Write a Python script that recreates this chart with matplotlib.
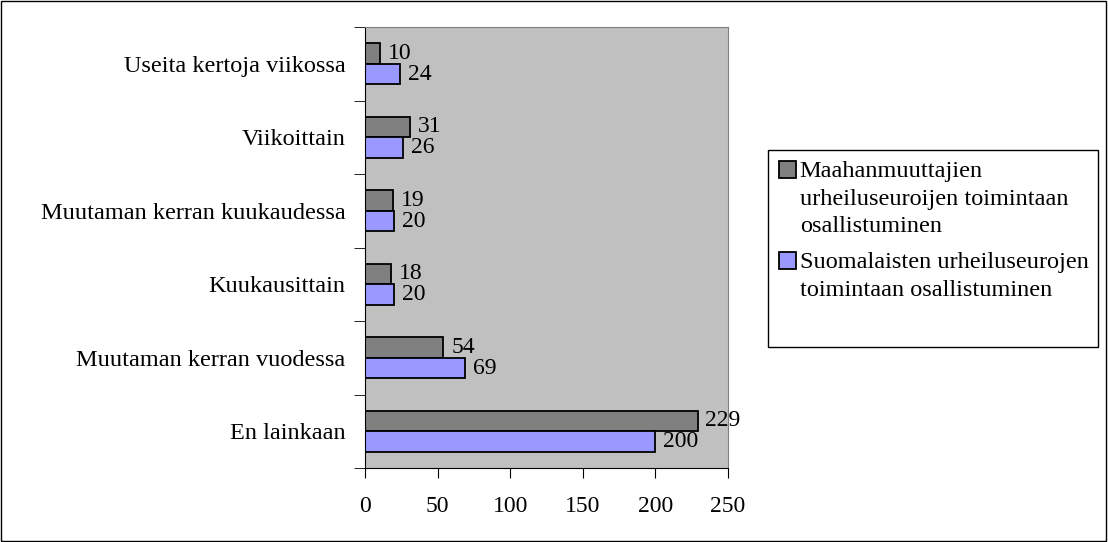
import matplotlib.pyplot as plt
import numpy as np
from matplotlib.patches import Rectangle

plt.rcParams['font.family'] = ['Liberation Serif', 'DejaVu Serif']

categories = ["En lainkaan", "Muutaman kerran vuodessa", "Kuukausittain",
              "Muutaman kerran kuukaudessa", "Viikoittain", "Useita kertoja viikossa"]
maahanmuuttajat = [229, 54, 18, 19, 31, 10]
suomalaiset = [200, 69, 20, 20, 26, 24]
series_labels = ["Maahanmuuttajien\nurheiluseuroijen toimintaan\nosallistuminen",
                 "Suomalaisten urheiluseurojen\ntoimintaan osallistuminen"]

W, H = 1108, 542
fig = plt.figure(figsize=(W / 100, H / 100), dpi=100)
ax = fig.add_axes([365 / W, 1 - 468 / H, 363 / W, 441 / H])
ax.set_facecolor("#C0C0C0")

y = np.arange(len(categories))
h = 0.28
b1 = ax.barh(y + h / 2, maahanmuuttajat, h, color="#808080", edgecolor="black",
             linewidth=1.3, label=series_labels[0])
b2 = ax.barh(y - h / 2, suomalaiset, h, color="#9999FF", edgecolor="black",
             linewidth=1.3, label=series_labels[1])
for bars in (b1, b2):
    for r in bars:
        ax.text(r.get_width() + 5.5, r.get_y() + r.get_height() / 2, str(int(r.get_width())),
                va="center", ha="left", fontsize=17)

ax.set_xlim(0, 250)
ax.set_ylim(-0.5, len(categories) - 0.5)
ax.set_xticks([0, 50, 100, 150, 200, 250])
ax.set_yticks(y)
ax.set_yticklabels(categories, fontsize=17.5)
ax.set_yticks(np.arange(-0.5, len(categories)), minor=True)
ax.tick_params(axis="y", which="major", length=0, pad=14)
ax.tick_params(axis="y", which="minor", length=8, direction="out")
ax.tick_params(axis="x", length=7, direction="out", labelsize=17, pad=13)
for s in ("top", "right"):
    ax.spines[s].set_color("#808080")
for s in ("left", "bottom"):
    ax.spines[s].set_color("black")

leg = fig.legend(loc="upper left", bbox_to_anchor=(779 / W, 1 - 161 / H),
                 fontsize=17.5, frameon=False,
                 handlelength=0.7, handleheight=0.7, handletextpad=0.15,
                 borderaxespad=0, labelspacing=0.6, borderpad=0)
for t in leg.get_texts():
    t.set_linespacing(1.42)
for col in leg._legend_handle_box.get_children():
    for item in col.get_children():
        item.align = "top"
for p in leg.get_patches():
    p.set_linewidth(1.3)

fig.patches.append(Rectangle((768 / W, 1 - 347 / H), 330 / W, 197 / H,
                             transform=fig.transFigure, fill=False,
                             edgecolor="black", linewidth=1))
fig.patches.append(Rectangle((0.001, 0.002), 0.997, 0.996, transform=fig.transFigure,
                             fill=False, edgecolor="black", linewidth=1))

fig.savefig("out.png", dpi=100)
